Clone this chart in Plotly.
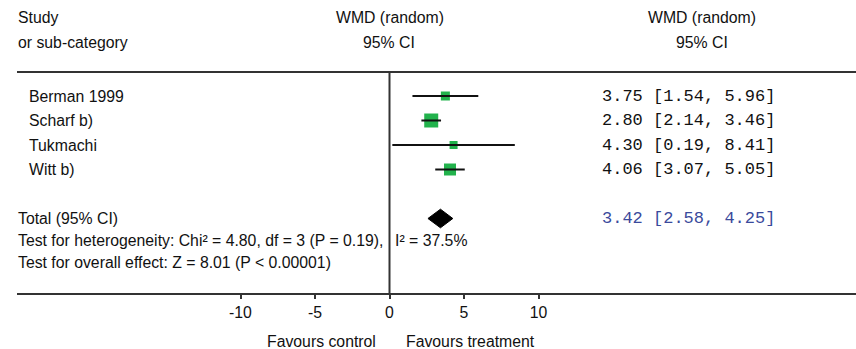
import plotly.graph_objects as go

studies = ["Berman 1999", "Scharf b)", "Tukmachi", "Witt b)"]
wmd = [3.75, 2.80, 4.30, 4.06]
ci_low = [1.54, 2.14, 0.19, 3.07]
ci_high = [5.96, 3.46, 8.41, 5.05]
weights_px = [9, 14, 8, 12]  # box sizes (relative study weight)
total_wmd = 3.42
total_low = 2.58
total_high = 4.25
tick_vals = [-10, -5, 0, 5, 10]
tick_text = ["-10", "-5", "0", "5", "10"]
heterogeneity = "Test for heterogeneity: Chi² = 4.80, df = 3 (P = 0.19),"
i2_text = "I² = 37.5%"
overall = "Test for overall effect: Z = 8.01 (P < 0.00001)"

W, H = 856, 349
row_px0, row_step = 96.0, 24.5


def r(px):
    return (px - row_px0) / row_step


rows = list(range(len(studies)))
total_row = len(studies) + 1

SANS = "Liberation Sans, Arial, sans-serif"
MONO = "Liberation Mono, Courier New, monospace"
GREEN = "#22b24c"
BLUE = "#3a4a9c"
FS = 15.8

fig = go.Figure()

# study boxes
fig.add_trace(go.Scatter(
    x=wmd, y=rows, mode="markers",
    marker=dict(symbol="square", size=weights_px, color=GREEN, opacity=1,
                line=dict(width=0)),
    hoverinfo="skip", showlegend=False))

# confidence interval lines (drawn over the boxes)
cx, cy = [], []
for lo, hi, rr in zip(ci_low, ci_high, rows):
    cx += [lo, hi, None]
    cy += [rr, rr, None]
fig.add_trace(go.Scatter(x=cx, y=cy, mode="lines",
                         line=dict(color="#111111", width=2),
                         hoverinfo="skip", showlegend=False))

# pooled diamond
dh = 0.38
fig.add_trace(go.Scatter(
    x=[total_low, total_wmd, total_high, total_wmd, total_low],
    y=[total_row, total_row - dh, total_row, total_row + dh, total_row],
    mode="lines", fill="toself", fillcolor="#000000",
    line=dict(color="#000000", width=1), hoverinfo="skip", showlegend=False))

ann = []


def add(text, x, y, xanchor="left", font=SANS, size=FS, color="#111111"):
    ann.append(dict(text=text, x=x / W, y=y, xref="paper", yref="y",
                    xanchor=xanchor, yanchor="middle", showarrow=False,
                    font=dict(family=font, size=size, color=color)))


# headers
add("Study", 16, r(17))
add("or sub-category", 16, r(42))
add("WMD (random)", 390, r(17), "center")
add("95% CI", 389, r(42), "center")
add("WMD (random)", 702, r(17), "center")
add("95% CI", 702, r(42), "center")

for name, m, lo, hi, rr in zip(studies, wmd, ci_low, ci_high, rows):
    add(name, 27, rr)
    add(f"{m:.2f} [{lo:.2f}, {hi:.2f}]", 600, rr, font=MONO, size=17)

add("Total (95% CI)", 16, total_row)
add(f"{total_wmd:.2f} [{total_low:.2f}, {total_high:.2f}]", 600, total_row,
    font=MONO, size=17, color=BLUE)
add(heterogeneity, 16, r(240))
add(i2_text, 393, r(240))
add(overall, 16, r(262))
add("Favours control", 378, r(341), "right")
add("Favours treatment", 404, r(341), "left")

x_left_px, x_zero_px, px_per_unit = 17.0, 389.5, 14.9

fig.update_layout(
    width=W, height=H,
    margin=dict(l=0, r=0, t=0, b=0),
    paper_bgcolor="#ffffff", plot_bgcolor="#ffffff",
    annotations=ann,
    shapes=[
        dict(type="line", xref="paper", yref="y", x0=17 / W, x1=1,
             y0=r(72), y1=r(72), line=dict(color="#333333", width=2)),
        dict(type="line", xref="x", yref="y", x0=0, x1=0,
             y0=r(72), y1=r(294), line=dict(color="#333333", width=2)),
    ],
    xaxis=dict(
        domain=[x_left_px / W, 1],
        range=[(x_left_px - x_zero_px) / px_per_unit, (W - x_zero_px) / px_per_unit],
        anchor="free", position=1 - 294 / H,
        showgrid=False, zeroline=False,
        showline=True, linecolor="#333333", linewidth=2,
        ticks="outside", ticklen=4, tickwidth=2, tickcolor="#333333",
        tickvals=tick_vals, ticktext=tick_text,
        tickfont=dict(family=SANS, size=FS, color="#111111"),
        fixedrange=True,
    ),
    yaxis=dict(
        domain=[0, 1],
        range=[r(H), r(0)],
        visible=False, showgrid=False, zeroline=False, fixedrange=True,
    ),
)

fig.write_html("out.html",
               config={"displayModeBar": False, "staticPlot": True},
               post_script="document.body.style.margin='0px';document.body.style.overflow='hidden';")
